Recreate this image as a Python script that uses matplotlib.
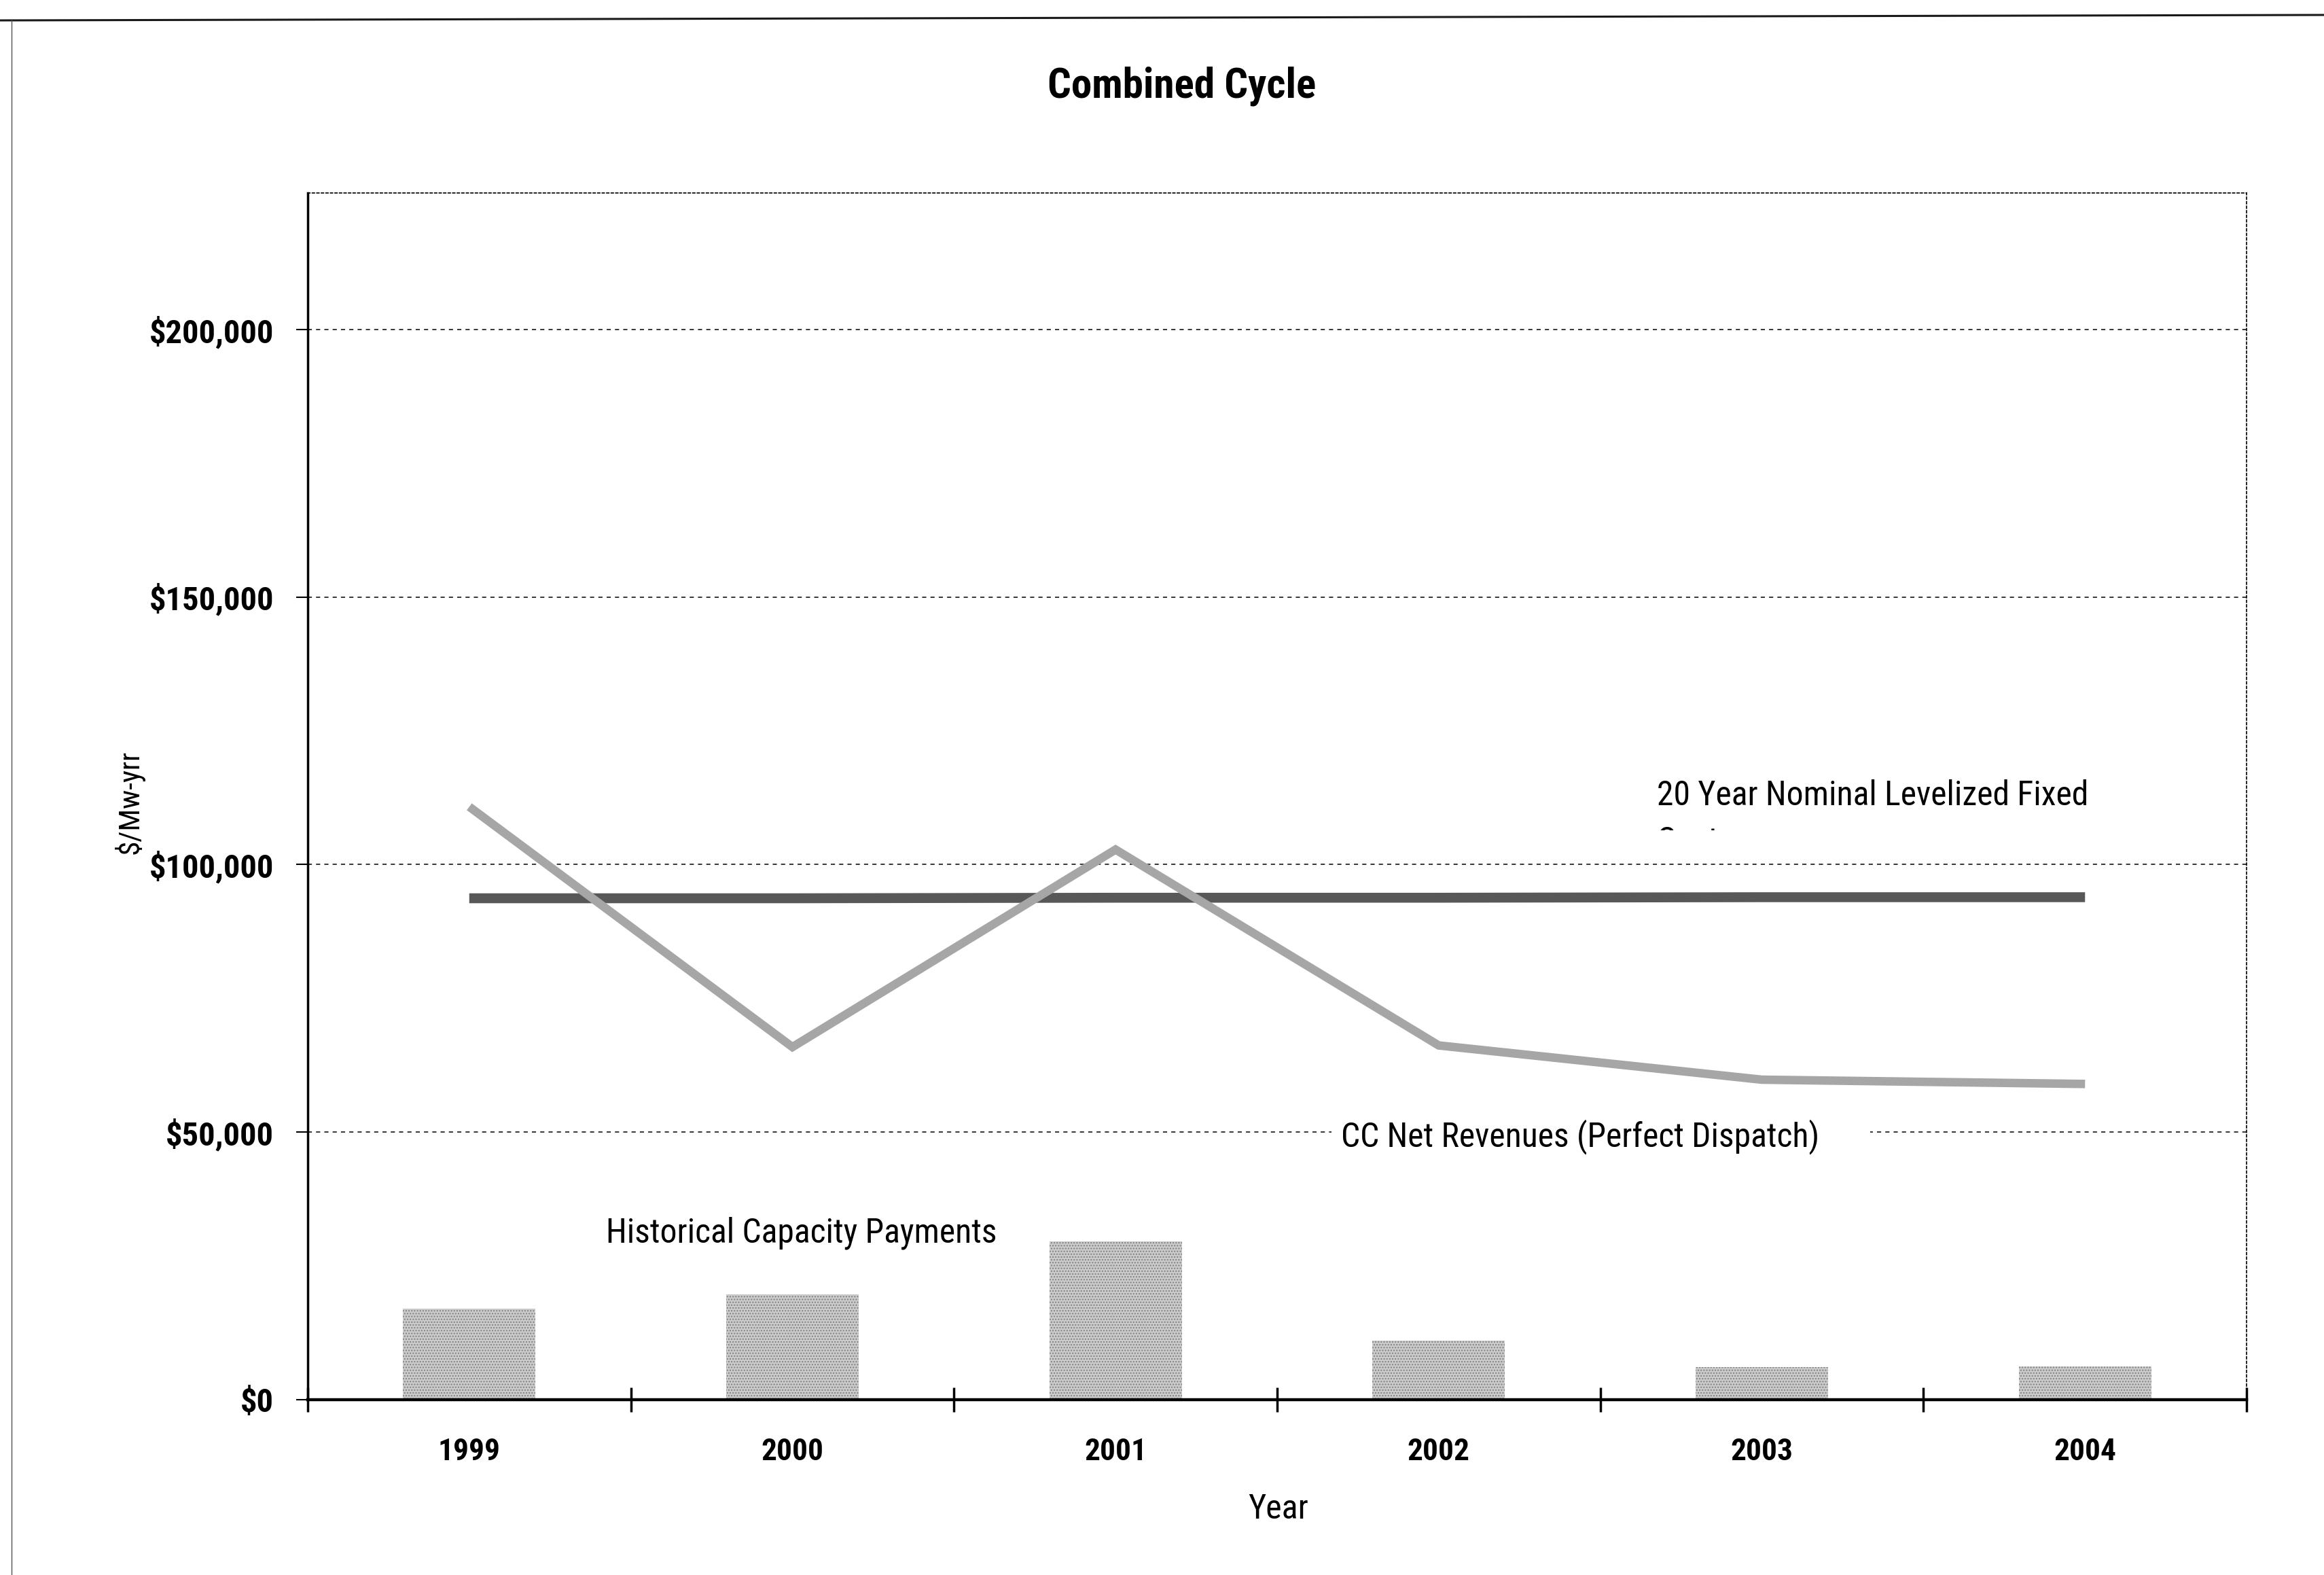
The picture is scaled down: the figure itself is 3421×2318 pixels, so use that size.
import matplotlib
matplotlib.use("Agg")
import numpy as np
import matplotlib.pyplot as plt
from matplotlib import font_manager as fm
from matplotlib.font_manager import FontProperties
from matplotlib.lines import Line2D
from matplotlib.patches import Rectangle
from matplotlib.textpath import TextPath

# ---- data -------------------------------------------------------------
years = ["1999", "2000", "2001", "2002", "2003", "2004"]
capacity_payments = [17000, 19700, 29600, 11000, 6100, 6200]
cc_net_revenues = [110800, 65900, 102800, 66200, 59800, 59000]
levelized_fixed_cost = [93700, 93700, 93800, 93800, 93900, 93900]
y_ticks = [0, 50000, 100000, 150000, 200000]
y_tick_labels = ["$0", "$50,000", "$100,000", "$150,000", "$200,000"]

# ---- fonts: prefer a narrow sans face -----------------------------------
ttf = fm.fontManager.ttflist
names = {f.name for f in ttf}
family, stretch = None, "normal"
for cand in ("Liberation Sans Narrow", "Arial Narrow", "Roboto Condensed",
             "Open Sans Condensed", "Noto Sans Condensed",
             "DejaVu Sans Condensed"):
    if cand in names:
        family = cand
        break
if family is None:
    for base in ("Liberation Sans", "Noto Sans", "Roboto", "Open Sans",
                 "DejaVu Sans"):
        if any(f.name == base and "condensed" in str(f.stretch) for f in ttf):
            family, stretch = base, "condensed"
            break
if family is None:
    family = "Liberation Sans"

plt.rcParams["font.family"] = [family, "DejaVu Sans"]
plt.rcParams["font.stretch"] = stretch

DPI = 100


def size_for(text, width_px, weight="normal"):
    """Font size (pt) that makes `text` span `width_px` pixels."""
    prop = FontProperties(family=[family, "DejaVu Sans"], weight=weight,
                          stretch=stretch, size=100)
    w = TextPath((0, 0), text, prop=prop).get_extents().width
    return 100 * (width_px * 72 / DPI) / w


fs_title = size_for("Combined Cycle", 391, "bold")
fs_ytick = size_for("$200,000", 179, "bold")
fs_xtick = size_for("1999", 86, "bold")
fs_note = size_for("CC Net Revenues (Perfect Dispatch)", 698)
fs_xlabel = size_for("Year", 87)
fs_ylabel = size_for("$/Mw-yrr", 150)

fig = plt.figure(figsize=(34.21, 23.18), dpi=DPI, facecolor="white")
ax = fig.add_axes([0.1324, 0.1113, 0.8343, 0.7662])

x = np.arange(len(years))

# bars: historical capacity payments
ax.bar(x, capacity_payments, width=0.41, color="#cbcbcb", edgecolor="#808080",
       linewidth=0, hatch="....", zorder=2)

# lines
ax.plot(x, levelized_fixed_cost, color="#585858", lw=10.5,
        solid_capstyle="butt", zorder=3)
ax.plot(x, cc_net_revenues, color="#a6a6a6", lw=9,
        solid_capstyle="butt", solid_joinstyle="miter", zorder=4)

# axes limits and ticks
ax.set_xlim(-0.5, len(years) - 0.5)
ax.set_ylim(0, 225500)

ax.set_yticks(y_ticks)
ax.set_yticklabels(y_tick_labels, fontweight="bold", fontsize=fs_ytick)
ax.tick_params(axis="y", direction="out", length=12, width=1.5, pad=24,
               colors="black")

ax.set_xticks(np.arange(len(years) + 1) - 0.5)
ax.set_xticklabels([])
ax.tick_params(axis="x", which="major", direction="inout", length=26, width=2.5)
ax.set_xticks(x, minor=True)
ax.set_xticklabels(years, minor=True, fontweight="bold", fontsize=fs_xtick)
ax.tick_params(axis="x", which="minor", length=0, pad=40)

# gridlines
ax.yaxis.grid(True, linestyle=(0, (4, 4)), color="black", linewidth=1.1)
ax.set_axisbelow(True)

# spines
ax.spines["left"].set_linewidth(2.5)
ax.spines["bottom"].set_linewidth(3.2)
for side in ("top", "right"):
    ax.spines[side].set_linestyle((0, (2, 2)))
    ax.spines[side].set_linewidth(1.2)

# axis labels
ax.set_xlabel("Year", fontsize=fs_xlabel)
ax.xaxis.set_label_coords(0.5005, -0.0905)
ax.xaxis.label.set_verticalalignment("center")
ax.set_ylabel("$/Mw-yrr", fontsize=fs_ylabel)
ax.yaxis.set_label_coords(-0.092, 0.495)
ax.yaxis.label.set_verticalalignment("center")

fig.text(0.5085, 0.9455, "Combined Cycle", ha="center", va="center",
         fontsize=fs_title, fontweight="bold")

# series annotations
ax.text(3.676, 111100, "20 Year Nominal Levelized Fixed", fontsize=fs_note,
        ha="left", va="baseline", zorder=5)
# second line of the cost label, mostly hidden under a white band
ax.text(3.676, 102400, "Costs", fontsize=fs_note, ha="left", va="baseline",
        zorder=5)
ax.add_patch(Rectangle((3.6, 100900), 0.5, 5500, facecolor="white",
                       edgecolor="none", zorder=6))

ax.add_patch(Rectangle((0.528, 0.198), 0.278, 0.05, transform=ax.transAxes,
                       facecolor="white", edgecolor="none", zorder=1.8))
ax.text(2.698, 47300, "CC Net Revenues (Perfect Dispatch)", fontsize=fs_note,
        ha="left", va="baseline", zorder=5)
ax.text(0.423, 29400, "Historical Capacity Payments", fontsize=fs_note,
        ha="left", va="baseline", zorder=5)

# page frame
fig.add_artist(Line2D([0, 1], [1 - 30 / 2318, 1 - 22 / 2318],
                      transform=fig.transFigure, color="#1a1a1a", lw=2.2))
fig.add_artist(Line2D([17 / 3421, 17 / 3421], [0, 1 - 30 / 2318],
                      transform=fig.transFigure, color="#555555", lw=1.0))

fig.savefig("out.png", dpi=DPI, facecolor="white")
